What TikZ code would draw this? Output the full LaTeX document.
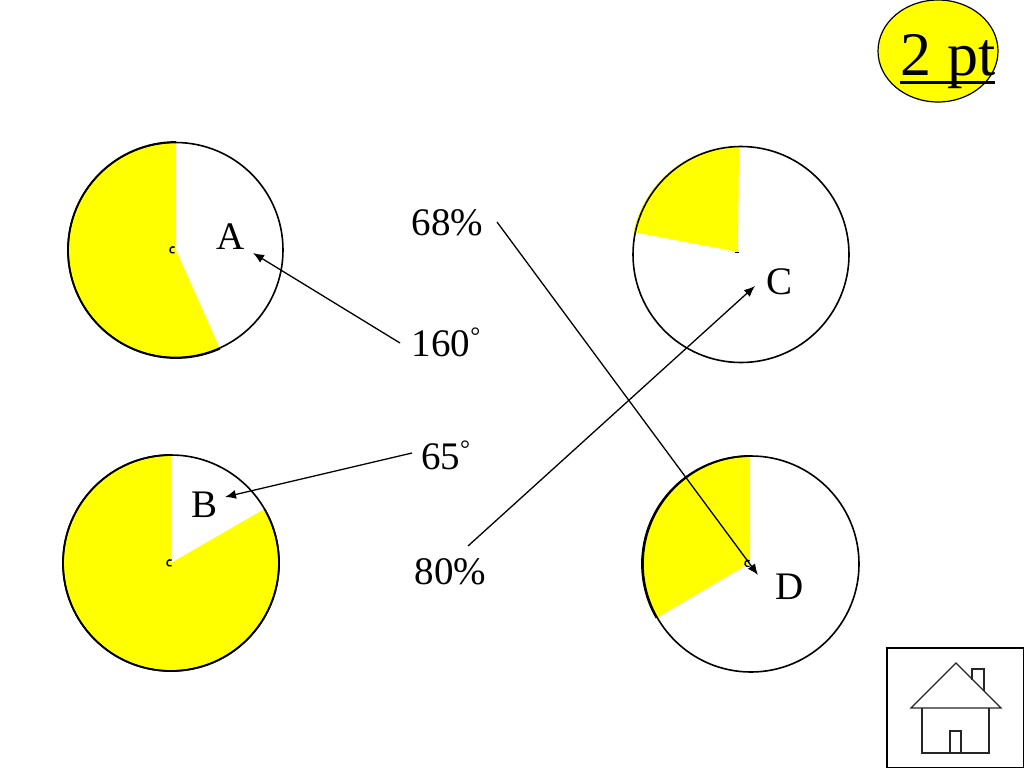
\documentclass[tikz,border=0pt]{standalone}
\usepackage{fontspec}
\setmainfont{Liberation Serif}
\usetikzlibrary{arrows.meta,shapes.geometric}
\definecolor{pieyellow}{RGB}{255,255,0}
\newcommand{\smalldeg}{{\fontsize{25}{25}\selectfont\raisebox{12pt}{\textdegree}}}
\tikzset{
  lbl/.style={inner sep=0pt,anchor=base,font=\fontsize{39}{39}\selectfont,text=black},
  ring/.style={draw=black,line width=1.6pt},
  wedge/.style={fill=pieyellow},
  rim/.style={draw=black,line width=1.8pt},
  conn/.style={draw=black,line width=1.3pt,-{Latex[length=11pt,width=9pt]}},
  house/.style={draw=black!85,line width=1.2pt},
  centremark/.style={draw=black,line width=1.4pt},
}
\begin{document}
\begin{tikzpicture}[x=1pt,y=-1pt]
\useasboundingbox (0,0) rectangle (1024,768);
\fill[white] (0,0) rectangle (1024,768);

% pie A
\fill[wedge] (176,250) -- (176,142) arc[start angle=-90,end angle=-294,radius=108] -- cycle;
\draw[ring] (175.5,250) circle[radius=107.5];
\draw[rim] (176,142) arc[start angle=-90,end angle=-294,radius=108];
\draw[centremark] (174.7,247.2) arc[start angle=-60,end angle=-300,radius=3.2];
% pie C
\fill[wedge] (738,252) -- (739,146.5) arc[start angle=-90,end angle=-168,radius=108] -- cycle;
\draw[ring] (741,254.5) circle[radius=108];
\draw[centremark] (735,252.5) -- (739,252.5);
% pie B
\fill[wedge] (171,563) -- (171,455) arc[start angle=-90,end angle=-390,radius=108] -- cycle;
\draw[ring] (171,563) circle[radius=108];
\draw[rim] (171,455) arc[start angle=-90,end angle=-390,radius=108];
\draw[centremark] (171.7,560.2) arc[start angle=-60,end angle=-300,radius=3.2];
% pie D
\fill[wedge] (750,563) -- (750,456) arc[start angle=-90,end angle=-210,radius=108] -- cycle;
\draw[ring] (751,564) circle[radius=108];
\draw[rim] (750,456) arc[start angle=-90,end angle=-210,radius=108];
\draw[centremark] (749.7,560.7) arc[start angle=-60,end angle=-300,radius=3.2];

% labels
\node[lbl] (a) at (231,249) {A};
\node[lbl] (b) at (205,517) {B};
\node[lbl] (c) at (779,294) {C};
\node[lbl] (d) at (790,599) {D};
\node[lbl] (p68) at (447.5,235) {68\%};
\node[lbl] (d160) at (446,356) {160\smalldeg};
\node[lbl] (d65) at (445.5,469) {65\smalldeg};
\node[lbl] (p80) at (450.5,584) {80\%};

% connector ends
\coordinate (sa) at (400,343);
\coordinate (ea) at (253,253);
\coordinate (sb) at (412,453);
\coordinate (eb) at (225,497);
\coordinate (sd) at (497,222);
\coordinate (ed) at (758,575);
\coordinate (sc) at (468,546);
\coordinate (ec) at (755,286);
\draw[conn] (sa) -- (ea);
\draw[conn] (sb) -- (eb);
\draw[conn] (sd) -- (ed);
\draw[conn] (sc) -- (ec);

% badge
\node[draw=black,line width=1.2pt,fill=pieyellow,ellipse,inner sep=0pt,minimum width=120pt,minimum height=102pt] (badge) at (938,51) {};
\node[inner sep=0pt,font=\fontsize{62}{62}\selectfont,anchor=base] (pts) at (948,75) {2 pt};
\coordinate (ul) at (900,82);
\coordinate (ur) at (995,82);
\draw[black,line width=3pt] (ul) -- (ur);

% home button
\draw[black,line width=1.3pt] (887,648) rectangle (1023.5,767.5);
\draw[house] (922,708) -- (922,753) -- (989,753) -- (989,708);
\draw[house] (956,663) -- (911,708) -- (1001,708) -- cycle;
\draw[house] (972,680) -- (972,669) -- (984,669) -- (984,691);
\draw[house] (950,753) -- (950,731) -- (961,731) -- (961,753);
\end{tikzpicture}
\end{document}
